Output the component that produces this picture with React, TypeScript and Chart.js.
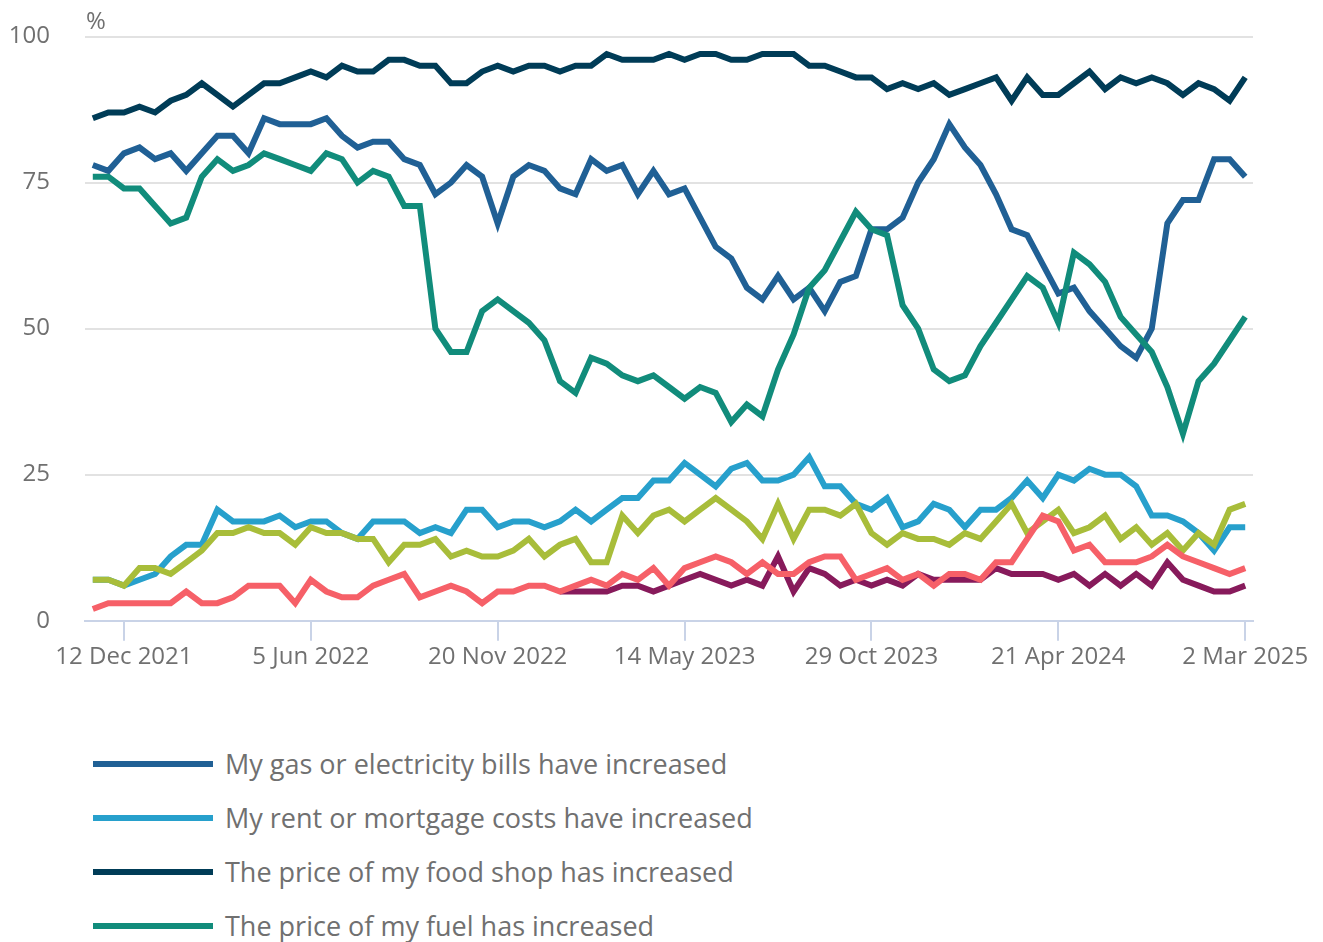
import React, { useEffect, useRef } from "react";
import { Chart, registerables } from "chart.js";

Chart.register(...registerables);

// Survey periods (only the dates shown as axis labels are named)
const categories: string[] = [
  "", "", "12 Dec 2021", "", "", "", "", "", "", "", "", "", "", "", "5 Jun 2022",
  "", "", "", "", "", "", "", "", "", "", "", "20 Nov 2022",
  "", "", "", "", "", "", "", "", "", "", "", "14 May 2023",
  "", "", "", "", "", "", "", "", "", "", "", "29 Oct 2023",
  "", "", "", "", "", "", "", "", "", "", "", "21 Apr 2024",
  "", "", "", "", "", "", "", "", "", "", "", "2 Mar 2025",
];

const gasElectricity: number[] = [
  78, 77, 80, 81, 79, 80, 77, 80, 83, 83, 80, 86, 85, 85, 85, 86, 83, 81, 82, 82, 79, 78, 73, 75, 78,
  76, 68, 76, 78, 77, 74, 73, 79, 77, 78, 73, 77, 73, 74, 69, 64, 62, 57, 55, 59, 55, 57, 53, 58, 59, 67,
  67, 69, 75, 79, 85, 81, 78, 73, 67, 66, 61, 56, 57, 53, 50, 47, 45, 50, 68, 72, 72, 79, 79, 76,
];

const rentMortgage: number[] = [
  7, 7, 6, 7, 8, 11, 13, 13, 19, 17, 17, 17, 18, 16, 17, 17, 15, 14, 17, 17, 17, 15, 16, 15, 19,
  19, 16, 17, 17, 16, 17, 19, 17, 19, 21, 21, 24, 24, 27, 25, 23, 26, 27, 24, 24, 25, 28, 23, 23, 20, 19,
  21, 16, 17, 20, 19, 16, 19, 19, 21, 24, 21, 25, 24, 26, 25, 25, 23, 18, 18, 17, 15, 12, 16, 16,
];

const foodShop: number[] = [
  86, 87, 87, 88, 87, 89, 90, 92, 90, 88, 90, 92, 92, 93, 94, 93, 95, 94, 94, 96, 96, 95, 95, 92, 92,
  94, 95, 94, 95, 95, 94, 95, 95, 97, 96, 96, 96, 97, 96, 97, 97, 96, 96, 97, 97, 97, 95, 95, 94, 93, 93,
  91, 92, 91, 92, 90, 91, 92, 93, 89, 93, 90, 90, 92, 94, 91, 93, 92, 93, 92, 90, 92, 91, 89, 93,
];

const fuel: number[] = [
  76, 76, 74, 74, 71, 68, 69, 76, 79, 77, 78, 80, 79, 78, 77, 80, 79, 75, 77, 76, 71, 71, 50, 46, 46,
  53, 55, 53, 51, 48, 41, 39, 45, 44, 42, 41, 42, 40, 38, 40, 39, 34, 37, 35, 43, 49, 57, 60, 65, 70, 67,
  66, 54, 50, 43, 41, 42, 47, 51, 55, 59, 57, 51, 63, 61, 58, 52, 49, 46, 40, 32, 41, 44, 48, 52,
];

const seriesFive: number[] = [
  7, 7, 6, 9, 9, 8, 10, 12, 15, 15, 16, 15, 15, 13, 16, 15, 15, 14, 14, 10, 13, 13, 14, 11, 12,
  11, 11, 12, 14, 11, 13, 14, 10, 10, 18, 15, 18, 19, 17, 19, 21, 19, 17, 14, 20, 14, 19, 19, 18, 20, 15,
  13, 15, 14, 14, 13, 15, 14, 17, 20, 15, 17, 19, 15, 16, 18, 14, 16, 13, 15, 12, 15, 13, 19, 20,
];

const seriesSix: (number | null)[] = [
  null, null, null, null, null, null, null, null, null, null, null, null, null, null, null,
  null, null, null, null, null, null, null, null, null, null, null, null, null, null, null,
  5, 5, 5, 5, 6, 6, 5, 6, 7, 8, 7, 6, 7, 6, 11, 5, 9, 8, 6, 7, 6,
  7, 6, 8, 7, 7, 7, 7, 9, 8, 8, 8, 7, 8, 6, 8, 6, 8, 6, 10, 7, 6, 5, 5, 6,
];

const seriesSeven: number[] = [
  2, 3, 3, 3, 3, 3, 5, 3, 3, 4, 6, 6, 6, 3, 7, 5, 4, 4, 6, 7, 8, 4, 5, 6, 5,
  3, 5, 5, 6, 6, 5, 6, 7, 6, 8, 7, 9, 6, 9, 10, 11, 10, 8, 10, 8, 8, 10, 11, 11, 7, 8,
  9, 7, 8, 6, 8, 8, 7, 10, 10, 14, 18, 17, 12, 13, 10, 10, 10, 11, 13, 11, 10, 9, 8, 9,
];

const seriesLabels = [
  "My gas or electricity bills have increased",
  "My rent or mortgage costs have increased",
  "The price of my food shop has increased",
  "The price of my fuel has increased",
  "My other household bills have increased",
  "My insurance costs have increased",
  "Other costs have increased",
];

const seriesColors = ["#206095", "#27a0cc", "#003c57", "#118c7b", "#a8bd3a", "#871a5b", "#f66068"];
const seriesData = [gasElectricity, rentMortgage, foodShop, fuel, seriesFive, seriesSix, seriesSeven];

const yTicks = [0, 25, 50, 75, 100];

const TEXT = "#707070";
const GRID = "#e2e2e2";
const AXIS = "#c9d3e7";
const FONT = "'Open Sans', sans-serif";

export default function App() {
  const ref = useRef<HTMLCanvasElement | null>(null);

  useEffect(() => {
    if (!ref.current) return;
    const percentPlugin = {
      id: "percentLabel",
      afterDraw(chart: any) {
        const { ctx, chartArea } = chart;
        ctx.save();
        ctx.font = `24px ${FONT}`;
        ctx.fillStyle = TEXT;
        ctx.textAlign = "left";
        ctx.textBaseline = "alphabetic";
        ctx.fillText("%", chartArea.left + 1, 21);
        ctx.restore();
      },
    };
    const chart = new Chart(ref.current, {
      type: "line",
      data: {
        labels: categories,
        datasets: seriesData.map((d, i) => ({
          label: seriesLabels[i],
          data: d,
          borderColor: seriesColors[i],
          backgroundColor: seriesColors[i],
          borderWidth: 6,
          pointRadius: 0,
          pointHoverRadius: 0,
          tension: 0,
          fill: false,
          order: seriesData.length - i,
        })),
      },
      options: {
        responsive: false,
        animation: false,
        devicePixelRatio: 1,
        layout: { padding: { top: 28.5, left: 0, right: 62, bottom: 34.5 } },
        plugins: {
          legend: { display: false },
          tooltip: { enabled: false },
        },
        scales: {
          x: {
            type: "category",
            offset: true,
            afterFit: (s: any) => {
              s.paddingLeft = 0;
              s.paddingRight = 0;
            },
            grid: {
              offset: false,
              drawOnChartArea: false,
              drawTicks: true,
              tickLength: 20,
              lineWidth: 2,
              color: AXIS,
              tickColor: AXIS,
            },
            border: { display: true, color: AXIS, width: 2 },
            ticks: {
              autoSkip: false,
              maxRotation: 0,
              minRotation: 0,
              padding: 2,
              color: TEXT,
              font: { family: FONT, size: 24 },
              callback: (_v: any, i: number) => (categories[i] ? categories[i] : null),
            },
          },
          y: {
            min: 0,
            max: 100,
            afterBuildTicks: (scale: any) => {
              scale.ticks = yTicks.map((v) => ({ value: v }));
            },
            afterFit: (s: any) => {
              s.width = 77;
              s.paddingTop = 0;
              s.paddingBottom = 0;
            },
            grid: {
              drawTicks: false,
              lineWidth: 2,
              color: (c: any) => (c.tick && c.tick.value === 0 ? "rgba(0,0,0,0)" : GRID),
            },
            border: { display: false },
            ticks: {
              padding: 35,
              color: TEXT,
              font: { family: FONT, size: 24 },
            },
          },
        },
      },
      plugins: [percentPlugin],
    });
    return () => chart.destroy();
  }, []);

  return (
    <div style={{ fontFamily: FONT, width: 1307 }}>
      <canvas ref={ref} width={1307} height={700} style={{ display: "block", width: 1307, height: 700 }} />
      <div style={{ paddingTop: 29 }}>
        {seriesLabels.map((label, i) => (
          <div key={label} style={{ display: "flex", alignItems: "center", height: 54, marginLeft: 85 }}>
            <span style={{ display: "inline-block", width: 120, height: 6, background: seriesColors[i], marginRight: 12 }} />
            <span style={{ fontSize: 27, color: TEXT, lineHeight: "54px" }}>{label}</span>
          </div>
        ))}
      </div>
    </div>
  );
}
